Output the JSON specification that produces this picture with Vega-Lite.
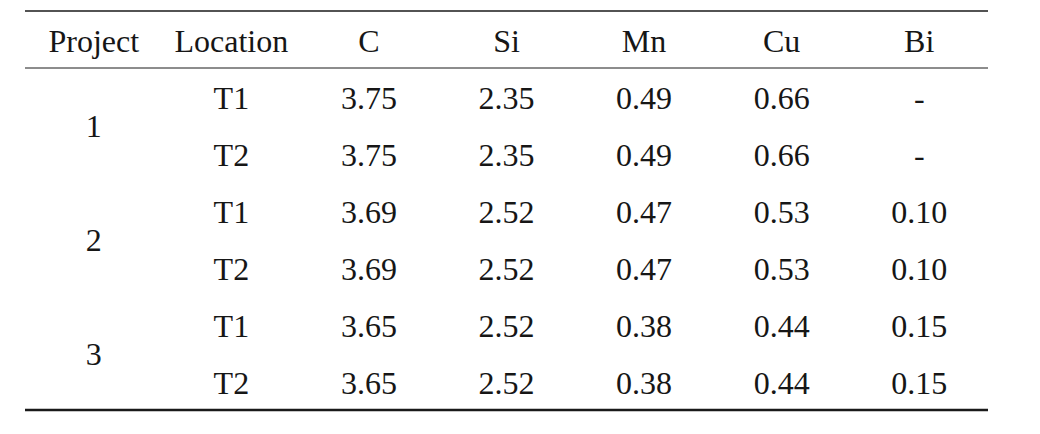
{
  "$schema": "https://vega.github.io/schema/vega-lite/v6.json",
  "width": 963,
  "height": 399,
  "autosize": "none",
  "padding": {"left": 25, "top": 11, "right": 52, "bottom": 24},
  "background": "white",
  "config": {
    "view": {"stroke": null},
    "text": {"font": "'Liberation Serif', 'Times New Roman', 'DejaVu Serif', serif", "fontSize": 32, "color": "#161616", "dy": 2}
  },
  "datasets": {
    "cells": [
      {"Sample": "1-T1", "Project": "1", "Location": "T1", "C": "3.75", "Si": "2.35", "Mn": "0.49", "Cu": "0.66", "Bi": "-"},
      {"Sample": "1-T2", "Project": "1", "Location": "T2", "C": "3.75", "Si": "2.35", "Mn": "0.49", "Cu": "0.66", "Bi": "-"},
      {"Sample": "2-T1", "Project": "2", "Location": "T1", "C": "3.69", "Si": "2.52", "Mn": "0.47", "Cu": "0.53", "Bi": "0.10"},
      {"Sample": "2-T2", "Project": "2", "Location": "T2", "C": "3.69", "Si": "2.52", "Mn": "0.47", "Cu": "0.53", "Bi": "0.10"},
      {"Sample": "3-T1", "Project": "3", "Location": "T1", "C": "3.65", "Si": "2.52", "Mn": "0.38", "Cu": "0.44", "Bi": "0.15"},
      {"Sample": "3-T2", "Project": "3", "Location": "T2", "C": "3.65", "Si": "2.52", "Mn": "0.38", "Cu": "0.44", "Bi": "0.15"}
    ],
    "headers": [
      {"column": "Project"}, {"column": "Location"}, {"column": "C"}, {"column": "Si"},
      {"column": "Mn"}, {"column": "Cu"}, {"column": "Bi"}
    ]
  },
  "encoding": {
    "x": {
      "field": "column",
      "type": "nominal",
      "axis": null,
      "scale": {"domain": ["Project", "Location", "C", "Si", "Mn", "Cu", "Bi"], "paddingInner": 0, "paddingOuter": 0}
    },
    "y": {
      "field": "Sample",
      "type": "nominal",
      "axis": null,
      "scale": {"domain": ["Header", "1-T1", "1-T2", "2-T1", "2-T2", "3-T1", "3-T2"], "paddingInner": 0, "paddingOuter": 0}
    }
  },
  "layer": [
    {
      "data": {"name": "headers"},
      "mark": {"type": "text", "baseline": "middle"},
      "encoding": {
        "y": {"datum": "Header"},
        "text": {"field": "column"}
      }
    },
    {
      "data": {"name": "cells"},
      "transform": [
        {"fold": ["Location", "C", "Si", "Mn", "Cu", "Bi"], "as": ["column", "value"]}
      ],
      "mark": {"type": "text", "baseline": "middle"},
      "encoding": {
        "text": {"field": "value"}
      }
    },
    {
      "data": {"name": "cells"},
      "transform": [{"filter": "datum.Location === 'T1'"}],
      "mark": {"type": "text", "baseline": "middle"},
      "encoding": {
        "x": {"datum": "Project"},
        "y": {"field": "Sample", "bandPosition": 1},
        "text": {"field": "Project"}
      }
    },
    {
      "data": {"values": [{}]},
      "mark": {"type": "rule", "color": "#1a1a1a", "strokeWidth": 1.5},
      "encoding": {"x": null, "y": {"datum": "Header", "bandPosition": 0}}
    },
    {
      "data": {"values": [{}]},
      "mark": {"type": "rule", "color": "#1a1a1a", "strokeWidth": 1},
      "encoding": {"x": null, "y": {"datum": "1-T1", "bandPosition": 0}}
    },
    {
      "data": {"values": [{}]},
      "mark": {"type": "rule", "color": "#1a1a1a", "strokeWidth": 2.5},
      "encoding": {"x": null, "y": {"datum": "3-T2", "bandPosition": 1}}
    }
  ]
}
